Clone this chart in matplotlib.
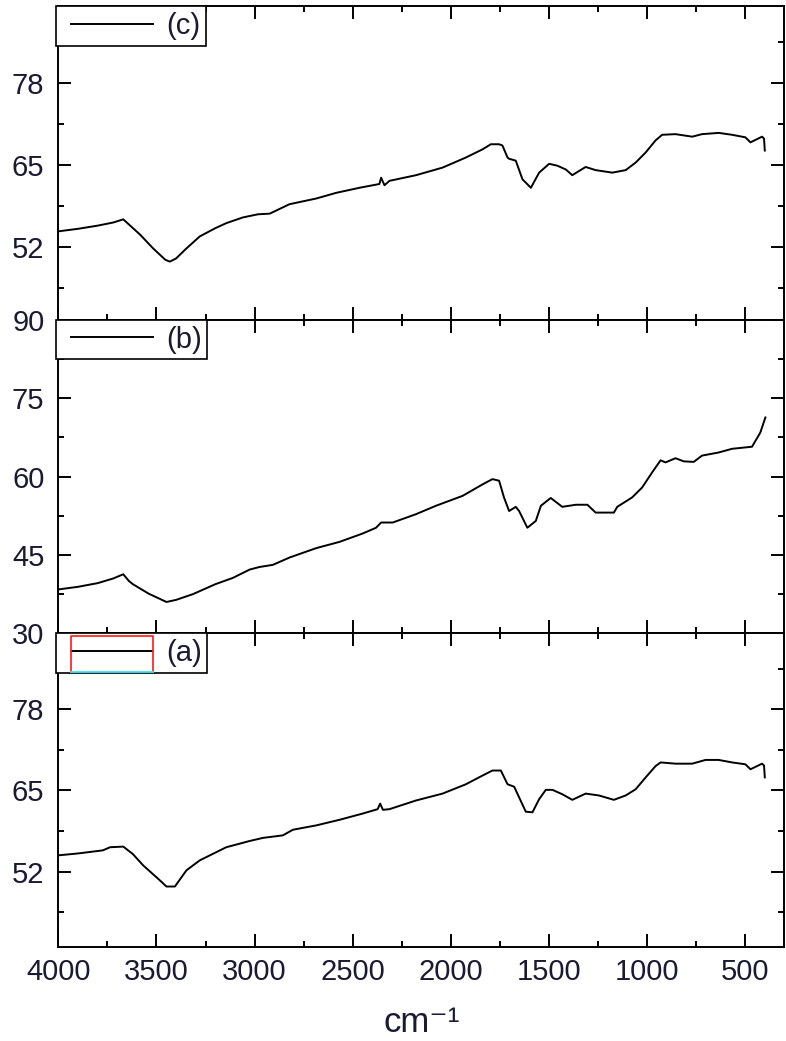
import matplotlib
matplotlib.use('Agg')
import matplotlib.pyplot as plt
from matplotlib.ticker import MultipleLocator
from matplotlib.lines import Line2D

plt.rcParams['font.family'] = ['Liberation Sans', 'DejaVu Sans']

# spectrum (c) - top panel
wn_c = [4000, 3900, 3800, 3720, 3669, 3584, 3517, 3455, 3432, 3400, 3347, 3279, 3200, 3144,
        3060, 2983, 2923, 2822, 2686, 2584, 2466, 2364, 2355, 2338, 2313, 2177, 2042, 1923,
        1838, 1796, 1754, 1737, 1711, 1703, 1669, 1635, 1592, 1550, 1499, 1457, 1414, 1381,
        1313, 1262, 1177, 1109, 1058, 1007, 957, 923, 855, 770, 720, 635, 567, 499, 473,
        414, 404, 400]
tr_c = [54.5, 54.9, 55.4, 55.9, 56.4, 54.0, 51.8, 50.0, 49.7, 50.2, 51.8, 53.7, 55.0, 55.8,
        56.7, 57.2, 57.3, 58.8, 59.7, 60.6, 61.4, 62.0, 63.0, 61.8, 62.5, 63.4, 64.6, 66.2,
        67.5, 68.3, 68.3, 68.1, 66.2, 66.0, 65.7, 62.75, 61.4, 63.8, 65.2, 64.9, 64.3, 63.4,
        64.7, 64.2, 63.8, 64.2, 65.4, 67.0, 68.9, 69.8, 69.9, 69.5, 69.9, 70.1, 69.8, 69.4, 68.6,
        69.5, 69.2, 67.3]

# spectrum (b) - middle panel
wn_b = [4000, 3900, 3800, 3720, 3669, 3640, 3620, 3540, 3449, 3400, 3314, 3200, 3111, 3025,
        2974, 2907, 2822, 2686, 2567, 2449, 2381, 2355, 2296, 2177, 2076, 1940, 1838, 1788,
        1754, 1729, 1703, 1669, 1652, 1610, 1567, 1541, 1491, 1432, 1363, 1304, 1262, 1169,
        1152, 1076, 1025, 974, 931, 906, 855, 813, 762, 720, 635, 567, 465, 448, 423, 397]
tr_b = [38.4, 38.9, 39.6, 40.5, 41.3, 40.0, 39.4, 37.6, 36.0, 36.4, 37.5, 39.4, 40.6, 42.2,
        42.7, 43.1, 44.5, 46.3, 47.5, 49.1, 50.2, 51.2, 51.2, 52.8, 54.4, 56.3, 58.5, 59.5,
        59.2, 56.0, 53.4, 54.2, 53.4, 50.2, 51.5, 54.4, 55.9, 54.2, 54.6, 54.6, 53.1, 53.1,
        54.2, 56.0, 57.9, 60.8, 63.1, 62.7, 63.5, 62.9, 62.8, 64.0, 64.6, 65.3, 65.7, 66.8, 68.4, 71.3]

# spectrum (a) - bottom panel
wn_a = [4000, 3900, 3773, 3736, 3669, 3620, 3568, 3483, 3449, 3406, 3347, 3279, 3144, 3025,
        2957, 2856, 2805, 2686, 2567, 2449, 2373, 2360, 2346, 2313, 2177, 2042, 1923, 1838,
        1788, 1745, 1711, 1677, 1652, 1618, 1584, 1550, 1516, 1482, 1432, 1381, 1313, 1245,
        1169, 1109, 1058, 1007, 957, 931, 855, 770, 702, 635, 567, 499, 473, 414, 404, 400]
tr_a = [54.6, 54.9, 55.4, 55.9, 56.0, 54.8, 53.0, 50.6, 49.6, 49.6, 52.2, 53.8, 55.9, 56.9,
        57.4, 57.8, 58.7, 59.4, 60.3, 61.3, 62.0, 62.9, 61.9, 62.0, 63.4, 64.5, 66.0, 67.4,
        68.2, 68.2, 66.0, 65.6, 63.9, 61.6, 61.5, 63.6, 65.1, 65.1, 64.4, 63.5, 64.5, 64.2,
        63.5, 64.2, 65.2, 67.1, 68.9, 69.5, 69.3, 69.3, 69.9, 69.9, 69.5, 69.2, 68.4, 69.3, 69.0, 67.1]

labels = ['(c)', '(b)', '(a)']
ylims = [(40.5, 90.2), (30, 90), (39.9, 90.2)]
yticks = [[52, 65, 78], [30, 45, 60, 75, 90], [52, 65, 78]]
yminor = [[45.5, 58.5, 71.5, 84.5], [37.5, 52.5, 67.5, 82.5], [45.5, 58.5, 71.5, 84.5]]

txt_color = '#1a1a32'

fig, axes = plt.subplots(3, 1, sharex=True, figsize=(7.86, 10.41), dpi=100)
fig.subplots_adjust(left=0.0742, right=0.998, top=0.9942, bottom=0.0903, hspace=0)

legends = []
for ax, wn, tr, lab, yl, yt, ym in zip(axes, [wn_c, wn_b, wn_a], [tr_c, tr_b, tr_a],
                                       labels, ylims, yticks, yminor):
    ax.plot(wn, tr, color='black', linewidth=1.4, label=lab)
    ax.set_xlim(4000, 300)
    ax.set_ylim(*yl)
    ax.set_yticks(yt)
    ax.set_yticks(ym, minor=True)
    ax.xaxis.set_major_locator(MultipleLocator(500))
    ax.xaxis.set_minor_locator(MultipleLocator(250))
    ax.tick_params(which='both', direction='in', top=True, right=True, width=1.4,
                   labelsize=21, labelcolor=txt_color)
    ax.tick_params(which='major', length=9.5)
    ax.tick_params(which='minor', length=4.5)
    ax.tick_params(axis='y', pad=10)
    ax.tick_params(axis='x', pad=8)
    for sp in ax.spines.values():
        sp.set_linewidth(1.4)
    leg = ax.legend(loc='upper left', bbox_to_anchor=(-0.003, 1.0), borderaxespad=0,
                    fontsize=21, frameon=True, fancybox=False, framealpha=1, numpoints=2,
                    handlelength=3.41, handletextpad=0.15, borderpad=0.2)
    leg.get_frame().set_edgecolor('black')
    leg.get_frame().set_linewidth(1.2)
    for t in leg.get_texts():
        t.set_color(txt_color)
    legends.append(leg)

axes[2].set_xlabel('cm\u207b\u00b9', fontsize=25, color=txt_color, labelpad=14)

# selection box left around the legend line of (a)
fig.canvas.draw()
leg = legends[2]
fr = leg.get_frame().get_window_extent()
hl = leg.get_lines()[0].get_window_extent()
inv = fig.transFigure.inverted()
x0, y0 = inv.transform((hl.x0, fr.y0 + 1))
x1, y1 = inv.transform((hl.x1, fr.y1 - 3))
fig.add_artist(Line2D([x0, x0, x1, x1], [y0, y1, y1, y0], color='#ff2a2a', linewidth=1.3,
                      transform=fig.transFigure))
fig.add_artist(Line2D([x0, x1], [y0, y0], color='#38e6f0', linewidth=1.3,
                      transform=fig.transFigure))

fig.savefig('out.png', dpi=100)
